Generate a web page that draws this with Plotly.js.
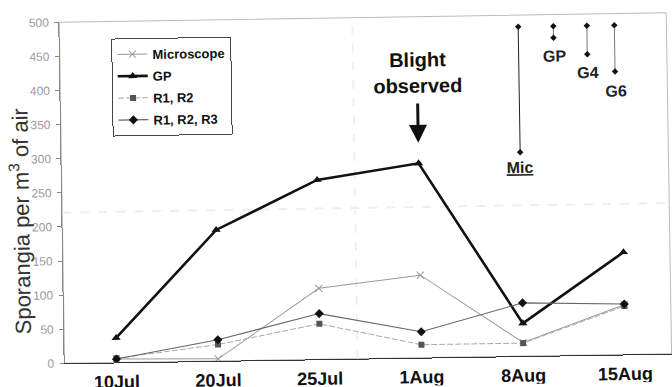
<!DOCTYPE html>
<html>
<head>
<meta charset="utf-8">
<script src="https://cdn.plot.ly/plotly-3.0.1.min.js"></script>
<style>
  html, body { margin: 0; padding: 0; background: #fff; }
  #chart { width: 672px; height: 387px; transform: rotate(-0.9deg); transform-origin: 50% 50%; }
</style>
</head>
<body>
<div id="chart"></div>
<script>
// Sampling dates and airborne sporangia counts per trap type
const categories = ['10Jul', '20Jul', '25Jul', '1Aug', '8Aug', '15Aug'];
const microscope = [5, 3, 104, 121, 20, 73];
const gp         = [36, 192, 263, 285, 48, 150];
const r12        = [6, 24, 52, 19, 19, 71];
const r123       = [5, 31, 67, 38, 78, 74];

// Detection-limit bars drawn in the upper right corner
const limitLabels = ['Mic', 'GP', 'G4', 'G6'];
const limitX      = [4.0, 4.345, 4.675, 4.945];
const limitTop    = [483, 483, 483, 483];
const limitBottom = [299, 466, 441, 415];
const limitLabelX = [4.0, 4.35, 4.675, 4.955];
const limitLabelY = [277, 439, 414, 386];

const xIdx = categories.map((_, i) => i);

const traces = [
  {
    name: 'Microscope', x: xIdx, y: microscope, mode: 'lines+markers',
    line: { color: '#999999', width: 1 },
    marker: { symbol: 'x-thin-open', size: 7, line: { color: '#777777', width: 1 } },
    legendgroup: 'a'
  },
  {
    name: 'GP', x: xIdx, y: gp, mode: 'lines+markers',
    line: { color: '#111111', width: 2.6 },
    marker: { symbol: 'triangle-up', size: 8, color: '#111111' },
    legendgroup: 'b'
  },
  {
    name: 'R1, R2', x: xIdx, y: r12, mode: 'lines+markers',
    line: { color: '#aaaaaa', width: 1, dash: '6px,2px' },
    marker: { symbol: 'square', size: 6, color: '#555555' },
    legendgroup: 'c'
  },
  {
    name: 'R1, R2, R3', x: xIdx, y: r123, mode: 'lines+markers',
    line: { color: '#666666', width: 1.1 },
    marker: { symbol: 'diamond', size: 7, color: '#111111' },
    legendgroup: 'd'
  }
];

// one vertical bar per detection limit
limitLabels.forEach((lab, i) => {
  traces.push({
    x: [limitX[i], limitX[i]], y: [limitTop[i], limitBottom[i]],
    mode: 'lines+markers', showlegend: false, hoverinfo: 'skip',
    line: { color: i === 0 ? '#222222' : '#777777', width: 1 },
    marker: { symbol: 'diamond', size: 5, color: '#111111' }
  });
});

const annotations = [
  {
    xref: 'paper', yref: 'paper', x: 0, y: 0.418, xanchor: 'center', yanchor: 'middle',
    xshift: -42, textangle: -90,
    text: 'Sporangia per m<sup>3</sup> of air', showarrow: false,
    font: { family: 'Arial, Liberation Sans, sans-serif', size: 22, color: '#333333' }
  },
  {
    x: 3, y: 418, text: '<b>Blight<br>observed</b>', showarrow: false,
    font: { family: 'Arial, Liberation Sans, sans-serif', size: 20, color: '#111111' }
  },
  {
    x: 3, y: 315, ax: 3, ay: 375, axref: 'x', ayref: 'y', text: '',
    showarrow: true, arrowhead: 2, arrowsize: 1.2, arrowwidth: 3, arrowcolor: '#111111'
  }
];
limitLabels.forEach((lab, i) => {
  annotations.push({
    x: limitLabelX[i], y: limitLabelY[i], showarrow: false,
    text: i === 0 ? '<b><u>' + lab + '</u></b>' : '<b>' + lab + '</b>',
    font: { family: 'Arial, Liberation Sans, sans-serif', size: 16, color: '#222222' }
  });
});

const layout = {
  width: 672, height: 387,
  margin: { l: 62, r: 3, t: 18, b: 28 },
  paper_bgcolor: '#ffffff', plot_bgcolor: '#ffffff',
  showlegend: true,
  legend: {
    x: 0.085, y: 0.95, xanchor: 'left', yanchor: 'top',
    bgcolor: '#ffffff', bordercolor: '#444444', borderwidth: 1,
    tracegroupgap: 2, itemwidth: 30,
    font: { family: 'Arial, Liberation Sans, sans-serif', size: 13, color: '#111111', weight: 'bold' }
  },
  xaxis: {
    range: [-0.51, 5.457], tickvals: xIdx, ticktext: categories,
    showgrid: false, zeroline: false, showline: true, linecolor: '#333333', linewidth: 1,
    ticks: '', ticklabelstandoff: 3,
    tickfont: { family: 'Arial, Liberation Sans, sans-serif', size: 18, color: '#111111', weight: 'bold' }
  },
  yaxis: {
    range: [0, 500], dtick: 50, showgrid: false, zeroline: false,
    showline: true, linecolor: '#888888', linewidth: 1,
    ticks: 'outside', ticklen: 4, tickcolor: '#888888', ticklabelstandoff: 3,
    tickfont: { family: 'Arial, Liberation Sans, sans-serif', size: 12, color: '#9a9a9a' }
  },
  shapes: [
    { type: 'rect', xref: 'paper', yref: 'paper', x0: 0, y0: 0, x1: 1, y1: 1,
      line: { color: '#bbbbbb', width: 1 }, layer: 'below' },
    { type: 'line', xref: 'paper', yref: 'y', x0: 0, x1: 1, y0: 221, y1: 221,
      line: { color: '#eeeeee', width: 2, dash: 'dash' }, layer: 'below' },
    { type: 'line', xref: 'x', yref: 'paper', x0: 2.37, x1: 2.37, y0: 0, y1: 1,
      line: { color: '#f0f0f0', width: 2, dash: 'dash' }, layer: 'below' }
  ],
  annotations: annotations
};

Plotly.newPlot('chart', traces, layout, { displayModeBar: false, staticPlot: true });
</script>
</body>
</html>
